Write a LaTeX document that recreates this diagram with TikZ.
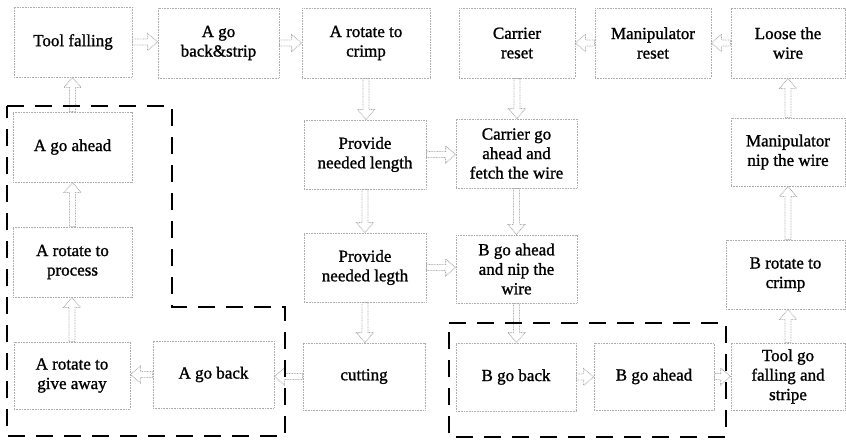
\documentclass[tikz,border=0pt]{standalone}
\usepackage{fontspec}
\setmainfont{Liberation Serif}[BoldFont={Liberation Serif},BoldFeatures={FakeBold=1.2}]
\usetikzlibrary{calc}
\tikzset{
 box/.style={draw=gray!65, dash pattern=on 0.8pt off 0.8pt, line width=0.9pt, align=center, inner sep=0pt, font=\fontsize{17}{19.5}\selectfont\bfseries},
 grp/.style={draw=black, line width=1.8pt, dash pattern=on 17pt off 11pt},
 barrow/.style={draw=gray!65, dash pattern=on 0.8pt off 0.8pt, line width=0.9pt}
}
\newcommand\blockarrow[2]{\path let \p1=(#1), \p2=(#2), \n1={atan2(\y2-\y1,\x2-\x1)}, \n2={veclen(\x2-\x1,\y2-\y1)} in [barrow, shift={(\p1)}, rotate=\n1] (0pt,-3pt) -- ({\n2*1pt-10pt},-3pt) -- ({\n2*1pt-10pt},-8.5pt) -- ({\n2*1pt},0pt) -- ({\n2*1pt-10pt},8.5pt) -- ({\n2*1pt-10pt},3pt) -- (0pt,3pt) -- cycle;}
\begin{document}
\begin{tikzpicture}[x=1pt,y=-1pt]
\useasboundingbox (0,0) rectangle (846,442);
% row 1
\node[box, minimum width=118pt, minimum height=70pt] (tf) at (73,42) {Tool falling};
\node[box, minimum width=121pt, minimum height=70pt] (gbs) at (218.5,43) {A go\\back\&strip};
\node[box, minimum width=128pt, minimum height=70pt] (rc) at (366,43) {A rotate to\\crimp};
\node[box, minimum width=116pt, minimum height=70pt] (cr) at (517,43) {Carrier\\reset};
\node[box, minimum width=116pt, minimum height=70pt] (mr) at (653,43) {Manipulator\\reset};
\node[box, minimum width=114pt, minimum height=70pt] (ltw) at (788,43) {Loose the\\wire};
% row 2
\node[box, minimum width=119pt, minimum height=70pt] (aga) at (72.5,147) {A go ahead};
\node[box, minimum width=122pt, minimum height=69pt] (pnl) at (365,154.5) {Provide\\needed length};
\node[box, minimum width=121pt, minimum height=69pt] (cga) at (516.5,153.5) {Carrier go\\ahead and\\fetch the wire};
\node[box, minimum width=114pt, minimum height=68pt] (mnw) at (788,152) {Manipulator\\nip the wire};
% row 3
\node[box, minimum width=119pt, minimum height=70pt] (arp) at (72.5,262) {A rotate to\\process};
\node[box, minimum width=122pt, minimum height=69pt] (pnl2) at (365,267.5) {Provide\\needed legth};
\node[box, minimum width=121pt, minimum height=68pt] (bgan) at (516.5,269) {B go ahead\\and nip the\\wire};
\node[box, minimum width=119pt, minimum height=69pt] (brc) at (785.5,274.5) {B rotate to\\crimp};
% row 4
\node[box, minimum width=116pt, minimum height=67pt] (agive) at (72,375.5) {A rotate to\\give away};
\node[box, minimum width=121pt, minimum height=67pt] (agb) at (213.5,374.5) {A go back};
\node[box, minimum width=122pt, minimum height=67pt] (cut) at (364,376.5) {cutting};
\node[box, minimum width=120pt, minimum height=68pt] (bgb) at (516,377) {B go back};
\node[box, minimum width=120pt, minimum height=67pt] (bga) at (654,376.5) {B go ahead};
\node[box, minimum width=114pt, minimum height=67pt] (tgf) at (788,376.5) {Tool go\\falling and\\stripe};
% arrows
\blockarrow{tf.east}{tf.east -| gbs.west}
\blockarrow{gbs.east}{gbs.east -| rc.west}
\blockarrow{rc.south}{rc.south |- pnl.north}
\blockarrow{pnl.south}{pnl.south |- pnl2.north}
\blockarrow{pnl2.south}{pnl2.south |- cut.north}
\blockarrow{pnl.east}{pnl.east -| cga.west}
\blockarrow{pnl2.east}{pnl2.east -| bgan.west}
\blockarrow{cr.south}{cr.south |- cga.north}
\blockarrow{cga.south}{cga.south |- bgan.north}
\blockarrow{bgan.south}{bgan.south |- bgb.north}
\blockarrow{bgb.east}{bgb.east -| bga.west}
\blockarrow{bga.east}{bga.east -| tgf.west}
\blockarrow{tgf.north}{tgf.north |- brc.south}
\blockarrow{tgf.north |- brc.north}{tgf.north |- mnw.south}
\blockarrow{mnw.north}{mnw.north |- ltw.south}
\blockarrow{ltw.west}{ltw.west -| mr.east}
\blockarrow{mr.west}{mr.west -| cr.east}
\blockarrow{cut.west}{cut.west -| agb.east}
\blockarrow{agb.west}{agb.west -| agive.east}
\blockarrow{agive.north}{agive.north |- arp.south}
\blockarrow{arp.north}{arp.north |- aga.south}
\blockarrow{aga.north}{aga.north |- tf.south}
% dashed groups
\draw[grp] (7,106) -- (172,106) -- (172,307) -- (285,307) -- (285,436) -- (7,436) -- cycle;
\draw[grp] (449,323) -- (726,323) -- (726,437) -- (449,437) -- cycle;
\end{tikzpicture}
\end{document}
